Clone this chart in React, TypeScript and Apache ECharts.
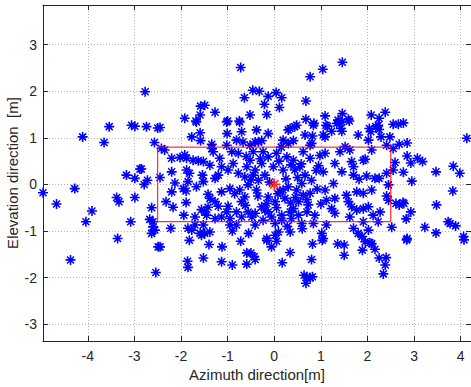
import React, { useEffect, useRef } from "react";
import * as echarts from "echarts";

// Azimuth (x) and elevation (y) of scattered points
const azimuth: number[] = [
  -2.77, -3.54, -3.06, -2.99, -2.74, -2.5, -4.11, -3.65, -2.57, -3.17, -2.99, -2.88, -2.85, -2.79, -2.72,
  -4.96, -4.67, -4.28, -3.91, -4.04, -3.38, -3.33, -2.99, -3.08, -2.63, -2.67, -2.6, -2.63, -2.56, -3.36,
  -2.49, -4.37, -2.54,
  -0.72, 0.77, -0.46, -0.32, -0.64, -0.13, 0.04, 0.16, -0.21, 0.11, -0.16, -0.52, -0.75, -1.0, -1.27,
  -1.58, -1.49, -1.59, -1.68, -1.92, 0.68, 0.68, 0.85, -2.45, 1.46, 1.04, 1.09, 1.46, 1.59, 1.34, 1.39,
  1.14, 2.08, 2.25, 2.38, 2.55, 2.66, 2.77, 2.18, 1.43,
  -2.45, -1.82, -1.86, -1.85, -1.52, -1.4, -1.12, -1.13, -0.9, -0.72, -0.59, -0.59, -0.5, -0.43, -0.41,
  -0.16, -0.06, 0.05, 0.34, 0.17, 0.82, 0.8, 0.64, 0.7, 0.77, 0.68, 0.82, 1.03, 1.36, 1.5, 1.5, 1.89,
  1.95, 2.05, 2.16, 2.25, 2.4, 2.38, 2.34, 2.84, 4.07,
  4.13, 3.47, 3.84, 3.98, 3.83, 3.48, 3.23, 3.47, 3.73, 3.77, 3.89, 4.06, 2.85, 2.83, 2.93, 2.78, 2.61,
  2.76, 2.68, 2.95, 2.77, 2.55, 2.59, 2.85, 2.93, 3.07, 3.18, 2.85, 2.68, 2.55, 2.41, 2.48, 2.25, 2.23,
  1.8, 2.04, 2.07, 2.29, 1.45, 1.23, 1.11, 1.09, 1.05,
  1.61, 2.02, 1.52, 1.62, 1.41, 2.09, 1.09, 1.3, 1.66, 1.7, 1.91, 1.95, 1.05, 1.45, 1.7, 1.82, 1.98,
  2.16, 2.25, 2.41, 2.45, 1.27, 1.09, 1.55, 1.77, 1.91, 2.09, 2.41, 2.45, 1.12, 1.3, 1.59, 1.66, 1.77,
  1.91, 2.02, 2.27, 2.12, 1.23, 1.3, 1.62, 1.91, 2.23, 2.52, 1.12, 1.7, 2.02, 1.8, 1.88, 2.09, 1.02, 1.05,
  -1.77, -1.59, -1.58, -1.01, -1.02, -1.67, -2.42, -2.35, -2.2, -2.02, -1.92, -1.88, -1.74, -1.63, -1.52,
  -1.34, -1.31, -1.38, -1.17, -1.13, -0.99, -2.2, -1.88, -1.82, -2.45, -2.13, -1.85, -1.54, -1.52, -1.27,
  -1.2, -1.67, -1.95, -1.89, -2.2, -1.42, -1.38, -1.13, -0.95, -2.32, -2.17, -1.89, -1.27, -1.2, -1.56,
  -1.49, -1.42, -0.99, -1.94, -1.7, -1.45, -1.27, -1.13, -1.02, -0.95, -2.6, -2.22, -1.85, -1.77, -1.7,
  -1.52, -1.49, -1.59, -1.38, -1.56, -0.95, -1.34, -1.02, -0.91,
  -0.74, -0.38, -0.13, 0.3, 0.44, 0.48, 0.66, -0.7, -0.81, -0.67, -0.41, -0.27, 0.19, 0.41, 0.8, -0.77,
  -0.52, -0.45, -0.24, -0.13, -0.27, 0.05, 0.27, 0.41, 0.62, 0.77, 0.55, 0.44, 0.19, -0.02, -0.41, -0.59,
  -0.77, -0.63, -0.34, -0.2, 0.66, 0.8, 0.59, 0.3, 0.19, 0.12, -0.56, -0.74, -0.38, -0.63, -0.7, -0.13,
  -0.16, -0.27, 0.02, 0.23, 0.48, 0.62, 0.77, 0.52, 0.73, 0.41, -0.81, -0.56, -0.41, -0.13, -0.06, 0.16,
  0.34, 0.52, 0.7, 0.87, -0.7, -0.48, -0.81, -0.41, -0.24, 0.16, 0.37, 0.59, 0.84, 0.02, 0.09, 0.34,
  -0.16, 0.02,
  -0.52, -0.34, 0.34, 0.3, 0.77, 0.84, 1.37, 1.45, 0.82,
  -0.88, -0.6, -0.3, 0.1, 0.36, 0.58, 0.95, -0.5, -0.1, 0.25, 0.5, 0.9, -0.85, -0.35, 0.08, 0.45, 0.92,
  -0.62, -0.2, 0.35, 0.7, 1.0, -0.45, 0.05, 0.28, 0.6, -0.9, -0.55, 0.15, 0.98,
];
const elevation: number[] = [
  1.99, 1.24, 1.27, 1.25, 1.24, 1.21, 1.02, 0.9, 0.9, 0.2, 0.13, 0.33, 0.33, 0.0, 0.09,
  -0.18, -0.42, -0.09, -0.57, -0.8, -0.28, -0.37, -0.28, -0.8, -0.5, -0.75, -0.91, -1.05, -0.98, -1.16,
  -1.34, -1.62, -1.89,
  2.51, 2.31, 2.02, 2.0, 1.86, 1.89, 1.97, 1.86, 1.72, 1.65, 1.5, 1.49, 1.36, 1.36, 1.55,
  1.68, 1.7, 1.49, 1.36, 1.42, 1.79, 1.4, 1.31, 1.22, 2.62, 2.47, 1.47, 1.52, 1.4, 1.31, 1.33,
  1.25, 1.49, 1.42, 1.55, 1.29, 1.29, 1.32, 1.24, 1.2,
  -1.34, -1.2, -1.65, -1.78, -1.58, -1.29, -1.34, -1.66, -1.73, -1.22, -1.47, -1.71, -1.47, -1.55, -1.61,
  -1.2, -1.34, -1.22, -1.46, -1.68, -1.28, -1.61, -1.95, -2.0, -2.0, -2.12, -1.98, -1.2, -1.28, -1.3, -1.52, -1.41,
  -1.23, -1.25, -1.39, -1.58, -1.57, -1.73, -1.92, -1.19, -1.19,
  0.99, 0.27, 0.39, 0.24, -0.14, -0.44, -0.92, -1.04, -0.8, -0.84, -0.89, -1.12, -1.16, -0.74, -0.59, -0.41, -0.41,
  -0.39, -0.44, 0.07, 0.26, 0.31, 0.47, 0.61, 0.46, 0.56, 0.49, 0.89, 0.86, 0.77, 0.84, 1.02, 1.18, 1.27,
  1.06, 1.2, 1.13, 1.02, 1.14, 1.14, 1.27, 1.02, 1.06,
  1.36, 0.95, 0.81, 0.74, 0.7, 0.74, 0.67, 0.45, 0.49, 0.38, 0.52, 0.54, 0.27, 0.27, 0.2, 0.11, 0.18,
  0.13, 0.13, 0.24, -0.01, 0.02, -0.12, -0.23, -0.16, -0.19, -0.12, -0.25, -0.34, -0.34, -0.3, -0.37, -0.48, -0.55,
  -0.52, -0.48, -0.59, -0.66, -0.52, -0.62, -0.7, -0.8, -0.8, -0.92, -0.87, -0.94, -0.98, -1.05, -1.12, -1.27, -1.05, -1.16,
  1.02, 1.11, 0.94, 1.09, 1.34, 1.34, 0.77, 0.74, 0.56, 0.58, 0.63, 0.56, 0.52, 0.51, 0.49,
  0.77, 0.7, 0.41, 0.56, 0.38, 0.31, 0.27, 0.31, 0.24, 0.15, 0.03, 0.06, 0.2, 0.06, 0.13,
  0.2, -0.05, -0.09, -0.14, -0.16, -0.21, -0.3, -0.16, -0.09, -0.37, -0.49, -0.39, -0.37, -0.47, -0.54,
  -0.59, -0.49, -0.47, -0.66, -0.7, -0.66, -0.73, -0.7, -0.59, -0.73, -0.8, -0.94, -0.94, -0.98, -0.87,
  -0.87, -1.05, -1.05, -1.02, -1.09, -0.87, 0.86, 0.84, 0.7,
  1.34, 1.17, 1.09, 1.17, 1.24, 1.27, 1.06, 1.13, 0.95, 0.91, 0.91, 0.94, 0.95, 0.94, 0.88, 0.67,
  0.52, 0.7, 0.7, 0.59, 0.45, 0.67, 0.59, 0.52, 0.7, 0.56, 0.38, 0.31, 0.31, 0.38, 0.31, 0.38,
  0.24, 0.16, 0.09, 0.2, 0.2, 0.09, 0.02, -0.05, -0.12, -0.16, -0.01, -0.12, -0.12, -0.27, -0.37, -0.27,
  -0.41, -0.48, -0.37, -0.3, -0.12, -0.23, -0.19, -0.37, -0.44, -0.52, -0.59, -0.59, -0.62, -0.59, -0.7, -0.66,
  -0.59, -0.66, -0.59, -0.66, -0.7, -0.7, -0.87, -0.87, -0.77, -0.77, -0.73, -0.84, -0.84, -0.84, -1.02, -1.02,
  -1.16, -1.09,
  0.84, 0.91, 1.2, 0.88, 0.84, 1.27, 1.38, 1.34, 1.04,
  0.45, 0.6, 0.55, 0.5, 0.42, 0.44, 0.4, 0.1, 0.05, 0.12, 0.15, 0.3, -0.2, -0.25, -0.2, -0.28, -0.1,
  -0.45, -0.55, -0.4, -0.33, -0.42, 0.2, -0.5, -0.9, -0.95, -1.0, -1.05, 0.8, 0.62,
];

// Reference window (red rectangle) and its centre
const windowX: number[] = [-2.5, 2.5];
const windowY: number[] = [-0.8, 0.8];
const centre: number[] = [0, 0];

const xTicks: number[] = [-4, -3, -2, -1, 0, 1, 2, 3, 4];
const yTicks: number[] = [-3, -2, -1, 0, 1, 2, 3];

const STAR =
  "path://M0 4.2H10V5.8H0Z M4.2 0H5.8V10H4.2Z M2.03 0.97L9.03 7.97L7.97 9.03L0.97 2.03Z M7.97 0.97L9.03 2.03L2.03 9.03L0.97 7.97Z";

export default function App() {
  const ref = useRef<HTMLDivElement>(null);
  useEffect(() => {
    if (!ref.current) return;
    const chart = echarts.init(ref.current, null, { renderer: "svg" });
    const ink = "#262626";
    const font = "'Liberation Sans', Arial, sans-serif";
    const points = azimuth.map((x, i) => [x, elevation[i]]);
    const rect = [
      [windowX[0], windowY[0]],
      [windowX[1], windowY[0]],
      [windowX[1], windowY[1]],
      [windowX[0], windowY[1]],
      [windowX[0], windowY[0]],
    ];
    const xmin = -4.96, xmax = 4.22, ymin = -3.36, ymax = 3.85;
    const grid = { type: [1, 2] as any, color: "#b5b5b5", width: 1 };
    chart.setOption({
      animation: false,
      grid: { left: 43, top: 5, width: 428, height: 336, containLabel: false, outerBoundsMode: "none" },
      xAxis: [
        {
          type: "value", min: xmin, max: xmax, position: "bottom",
          name: "Azimuth direction[m]", nameLocation: "middle", nameGap: 26, nameMoveOverlap: false,
          nameTextStyle: { fontSize: 15, color: ink, fontFamily: font },
          axisLine: { show: true, onZero: false, lineStyle: { color: ink, width: 1 } },
          axisTick: { show: true, inside: true, length: 5, customValues: xTicks, lineStyle: { color: ink } },
          axisLabel: { customValues: xTicks, fontSize: 14, color: ink, fontFamily: font, margin: 8 },
          splitLine: { show: true, lineStyle: grid },
        },
        {
          type: "value", min: xmin, max: xmax, position: "top",
          axisLine: { show: true, onZero: false, lineStyle: { color: ink, width: 1 } },
          axisTick: { show: true, inside: true, length: 5, customValues: xTicks, lineStyle: { color: ink } },
          axisLabel: { show: false },
          splitLine: { show: false },
        },
      ],
      yAxis: [
        {
          type: "value", min: ymin, max: ymax, position: "left",
          name: "Elevation direction  [m]", nameLocation: "middle", nameGap: 23, nameMoveOverlap: false,
          nameTextStyle: { fontSize: 15, color: ink, fontFamily: font },
          axisLine: { show: true, onZero: false, lineStyle: { color: ink, width: 1 } },
          axisTick: { show: true, inside: true, length: 5, customValues: yTicks, lineStyle: { color: ink } },
          axisLabel: { customValues: yTicks, fontSize: 14, color: ink, fontFamily: font, margin: 6 },
          splitLine: { show: true, lineStyle: grid },
        },
        {
          type: "value", min: ymin, max: ymax, position: "right",
          axisLine: { show: true, onZero: false, lineStyle: { color: ink, width: 1 } },
          axisTick: { show: true, inside: true, length: 5, customValues: yTicks, lineStyle: { color: ink } },
          axisLabel: { show: false },
          splitLine: { show: false },
        },
      ],
      series: [
        {
          type: "scatter", data: points, symbol: STAR, symbolSize: 10,
          itemStyle: { color: "#0000ff", opacity: 1 }, z: 2, silent: true,
        },
        {
          type: "line", data: rect, showSymbol: false, symbol: "none",
          lineStyle: { color: "#ff0000", width: 1 }, z: 3, silent: true,
        },
        {
          type: "scatter", data: [centre], symbol: STAR, symbolSize: 12,
          itemStyle: { color: "#ff0000" }, z: 4, silent: true,
        },
      ],
    });
    return () => chart.dispose();
  }, []);
  return (
    <div
      ref={ref}
      style={{ position: "fixed", left: 0, top: 0, width: 471, height: 387, background: "#fff" }}
    />
  );
}
